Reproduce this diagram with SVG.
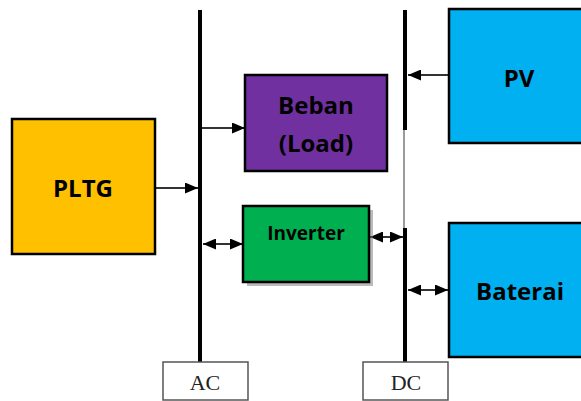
<svg xmlns="http://www.w3.org/2000/svg" width="581" height="401" viewBox="0 0 581 401">
<defs>
<marker id="ah" viewBox="0 0 13 11" refX="13" refY="5.5" markerWidth="13" markerHeight="11" markerUnits="userSpaceOnUse" orient="auto-start-reverse">
<path d="M0,0 L13,5.5 L0,11 z" fill="#000"/>
</marker>
</defs>
<style>
.box{stroke:#000;stroke-width:2.5}
.lbl{font-family:"Open Sans","DejaVu Sans",sans-serif;font-weight:bold;fill:#000;text-anchor:middle}
.bus{stroke:#000;stroke-width:4}
.conn{stroke:#333;stroke-width:2;fill:none}
.tag{fill:#fff;stroke:#555;stroke-width:1.5}
.tagt{font-family:"Liberation Serif","Times New Roman",serif;font-size:22px;fill:#222;text-anchor:middle}
</style>
<rect width="581" height="401" fill="#fff"/>
<g id="buses">
<line class="bus" x1="200" y1="10" x2="200" y2="362"/>
<line class="bus" x1="405" y1="10" x2="405" y2="130"/>
<line x1="404" y1="130" x2="404" y2="228" stroke="#666" stroke-width="1.3"/>
<line class="bus" x1="405" y1="228" x2="405" y2="362"/>
</g>
<g id="connectors">
<line class="conn" x1="202" y1="128" x2="245" y2="128" marker-end="url(#ah)"/>
<line class="conn" x1="155" y1="188" x2="198" y2="188" marker-end="url(#ah)"/>
<line class="conn" x1="203" y1="244" x2="243" y2="244" marker-start="url(#ah)" marker-end="url(#ah)"/>
<line class="conn" x1="370" y1="237" x2="403" y2="237" marker-start="url(#ah)" marker-end="url(#ah)"/>
<line class="conn" x1="449" y1="75" x2="408" y2="75" marker-end="url(#ah)"/>
<line class="conn" x1="408" y1="290" x2="448" y2="290" marker-start="url(#ah)" marker-end="url(#ah)"/>
</g>
<g id="pltg">
<rect class="box" x="12" y="119" width="143" height="135" fill="#FFC000"/>
<text class="lbl" x="83" y="197" font-size="24">PLTG</text>
</g>
<g id="beban">
<rect class="box" x="245" y="75" width="142" height="96" fill="#7030A0"/>
<text class="lbl" x="316" y="114" font-size="24">Beban</text>
<text class="lbl" x="316" y="152" font-size="24">(Load)</text>
</g>
<g id="inverter">
<rect x="247" y="210" width="126" height="76" fill="#777" opacity="0.5"/>
<rect class="box" x="243" y="206" width="126" height="76" fill="#00B050"/>
<text class="lbl" x="306" y="240" font-size="19">Inverter</text>
</g>
<g id="pv">
<rect class="box" x="449" y="9" width="140" height="134" fill="#00B0F0"/>
<text class="lbl" x="519" y="87" font-size="24">PV</text>
</g>
<g id="baterai">
<rect class="box" x="449" y="223" width="140" height="134" fill="#00B0F0"/>
<text class="lbl" x="520" y="300" font-size="24">Baterai</text>
</g>
<g id="ac">
<rect class="tag" x="163" y="362" width="85" height="38"/>
<text class="tagt" x="205" y="390">AC</text>
</g>
<g id="dc">
<rect class="tag" x="363" y="362" width="85" height="38"/>
<text class="tagt" x="406" y="390">DC</text>
</g>
</svg>
